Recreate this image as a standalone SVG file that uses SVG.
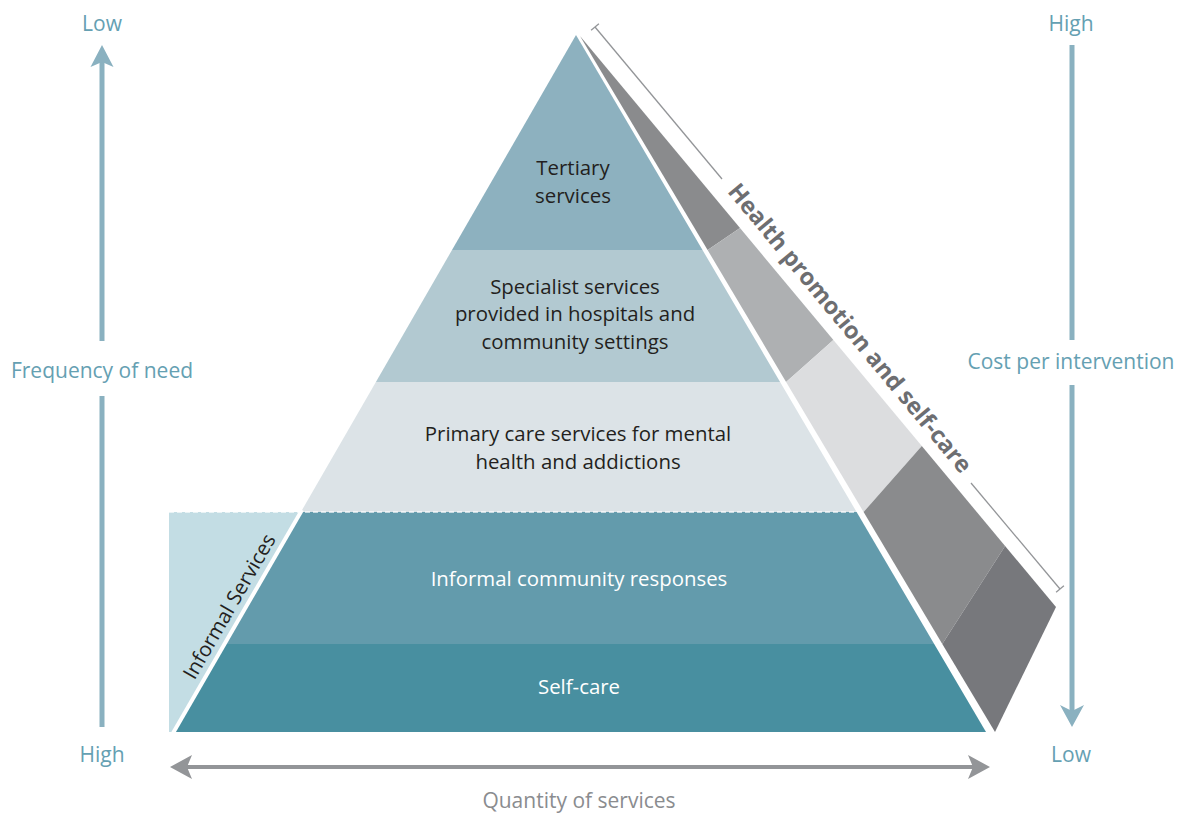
<svg xmlns="http://www.w3.org/2000/svg" width="1179" height="814" viewBox="0 0 1179 814">
<style>
.lbl{font-family:"Open Sans","Noto Sans","Liberation Sans",sans-serif;font-size:20.4px;fill:#231F20;text-anchor:middle}
.wlbl{font-family:"Open Sans","Noto Sans","Liberation Sans",sans-serif;font-size:20.4px;fill:#FFFFFF;text-anchor:middle}
.axis{font-family:"Open Sans","Noto Sans","Liberation Sans",sans-serif;font-size:21px;fill:#65A0B2;text-anchor:middle}
.gaxis{font-family:"Open Sans","Noto Sans","Liberation Sans",sans-serif;font-size:21px;fill:#8A8C8F;text-anchor:middle}
.hp{font-family:"Open Sans","Noto Sans","Liberation Sans",sans-serif;font-size:23.5px;font-weight:bold;fill:#6D6E71;text-anchor:middle}
.tealline{stroke:#8AB1C0;stroke-width:5;fill:none}
.greyline{stroke:#939598;stroke-width:4;fill:none}
</style>
<rect width="1179" height="814" fill="#FFFFFF"/>

<g id="informal-services">
<polygon points="169,512 300.9,512 174,732 169,732" fill="#C3DDE4"/>
<text class="lbl" font-size="19.5" transform="translate(235.5,610) rotate(-60)">Informal Services</text>
</g>

<g id="grey-strip">
<polygon points="580,36 740,228 707.6,250" fill="#8A8B8D"/>
<polygon points="707.6,250 740,228 833.4,340 786.1,382" fill="#AEB0B2"/>
<polygon points="786.1,382 833.4,340 921.8,446 863.6,512" fill="#DCDDDF"/>
<polygon points="863.6,512 921.8,446 1005.1,546 942.3,644" fill="#8A8B8D"/>
<polygon points="942.3,644 1005.1,546 1056,607 995,732" fill="#77787C"/>
</g>

<g id="tertiary">
<polygon points="576,35 702.5,250 452,250" fill="#8DB1BF"/>
<text class="lbl" x="573" y="175">Tertiary</text>
<text class="lbl" x="573" y="203">services</text>
</g>
<g id="specialist">
<polygon points="452,250 702.5,250 780.1,382 375.9,382" fill="#B2C9D1"/>
<text class="lbl" x="575" y="294">Specialist services</text>
<text class="lbl" x="575" y="321">provided in hospitals and</text>
<text class="lbl" x="575" y="349">community settings</text>
</g>
<g id="primary">
<polygon points="375.9,382 780.1,382 856.6,512 300.9,512" fill="#DCE3E7"/>
<text class="lbl" x="578" y="441">Primary care services for mental</text>
<text class="lbl" x="578" y="469">health and addictions</text>
</g>
<g id="informal-community">
<polygon points="300.9,512 856.6,512 934.2,644 224.7,644" fill="#639BAC"/>
<text class="wlbl" x="579" y="586">Informal community responses</text>
</g>
<g id="self-care">
<polygon points="224.7,644 934.2,644 986,732 174,732" fill="#488FA0"/>
<text class="wlbl" x="579" y="694">Self-care</text>
</g>

<g id="dividers">
<line x1="302" y1="510" x2="172.5" y2="734" stroke="#FFFFFF" stroke-width="4"/>
<line x1="169" y1="512" x2="857" y2="512" stroke="#FFFFFF" stroke-width="1.5" stroke-dasharray="5 3" opacity="0.85"/>
</g>

<g id="health-promotion">
<line x1="595" y1="27" x2="722" y2="179" stroke="#939598" stroke-width="1.3"/>
<line x1="971" y1="483" x2="1060" y2="589" stroke="#939598" stroke-width="1.3"/>
<line x1="591.1" y1="30.2" x2="598.9" y2="23.8" stroke="#939598" stroke-width="1.3"/>
<line x1="1056.1" y1="592.2" x2="1063.9" y2="585.8" stroke="#939598" stroke-width="1.3"/>
<text class="hp" transform="translate(843.8,333.2) rotate(50.4)">Health promotion and self-care</text>
</g>

<g id="connectors">
<line class="tealline" x1="102" y1="60" x2="102" y2="341"/>
<line class="tealline" x1="102" y1="396" x2="102" y2="727"/>
<polygon points="102,45 113.5,67 102,62 90.5,67" fill="#8AB1C0"/>
<line class="tealline" x1="1072" y1="45" x2="1072" y2="340"/>
<line class="tealline" x1="1072" y1="385" x2="1072" y2="712"/>
<polygon points="1072,727 1060,705 1072,711 1084,705" fill="#8AB1C0"/>
<line class="greyline" x1="184" y1="767" x2="976" y2="767"/>
<polygon points="170,767 192,755 187,767 192,779" fill="#939598"/>
<polygon points="990,767 968,755 973,767 968,779" fill="#939598"/>
</g>

<g id="axis-labels">
<text class="axis" x="102" y="31">Low</text>
<text class="axis" x="102" y="762">High</text>
<text class="axis" x="102" y="378">Frequency of need</text>
<text class="axis" x="1071" y="31">High</text>
<text class="axis" x="1071" y="762">Low</text>
<text class="axis" x="1071" y="369">Cost per intervention</text>
<text class="gaxis" x="579" y="808">Quantity of services</text>
</g>
</svg>
